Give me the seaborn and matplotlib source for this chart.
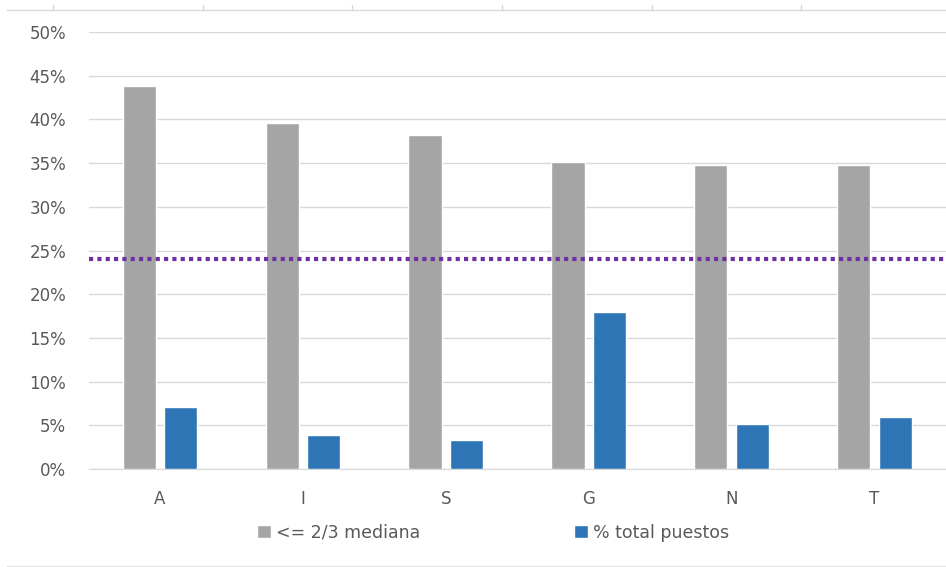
import numpy as np
import pandas as pd
import matplotlib
matplotlib.use("Agg")
import matplotlib.pyplot as plt
import seaborn as sns
from matplotlib.lines import Line2D
from matplotlib.ticker import PercentFormatter

categories = ["A", "I", "S", "G", "N", "T"]
mediana = [43.8, 39.6, 38.2, 35.1, 34.8, 34.8]
puestos = [7.1, 3.9, 3.3, 18.0, 5.1, 5.9]
series_names = ["<= 2/3 mediana", "% total puestos"]
reference_line = 24.0
yticks = [0, 5, 10, 15, 20, 25, 30, 35, 40, 45, 50]

df = pd.DataFrame({
    "cat": categories * 2,
    "serie": [series_names[0]] * len(categories) + [series_names[1]] * len(categories),
    "valor": mediana + puestos,
})

sns.set_style("white")
plt.rcParams["font.family"] = ["DejaVu Sans"]
text_color = "#595959"
grid_color = "#d9d9d9"
fs = 12

fig = plt.figure(figsize=(9.46, 5.67), dpi=100)
ax = fig.add_axes([88.5 / 946, 1 - 469 / 567, 1 - 88.5 / 946, (469 - 32) / 567])

sns.barplot(data=df, x="cat", y="valor", hue="serie", order=categories,
            hue_order=series_names, palette=["#a5a5a5", "#2e75b6"],
            width=0.58, gap=0.2, saturation=1, ax=ax, zorder=3)

ax.axhline(reference_line, color="#7030a0", lw=3, ls=(0, (1, 1)), zorder=4)

ax.set_ylim(0, 50)
ax.set_xlim(-0.5, len(categories) - 0.5)
ax.set_yticks(yticks)
ax.yaxis.set_major_formatter(PercentFormatter(decimals=0))
ax.grid(axis="y", color=grid_color, lw=1, zorder=0)
ax.grid(axis="x", visible=False)
for s in ["top", "right", "left"]:
    ax.spines[s].set_visible(False)
ax.spines["bottom"].set_color(grid_color)
ax.tick_params(axis="both", length=0, labelsize=fs, colors=text_color)
ax.tick_params(axis="x", pad=15)
ax.tick_params(axis="y", pad=16)
ax.set_xlabel("")
ax.set_ylabel("")

handles, labels = ax.get_legend_handles_labels()
ax.legend(handles, labels, loc="center", bbox_to_anchor=(0.472, -0.146),
          ncol=2, frameon=False, fontsize=12.5, labelcolor=text_color,
          handlelength=0.8, handleheight=0.8, handletextpad=0.3, columnspacing=8.85)

# thin borders from the surrounding sheet
fig.add_artist(Line2D([7 / 946, 1], [1 - 10 / 567] * 2, color=grid_color, lw=1))
for xp in [53, 203, 352, 502, 652, 801]:
    fig.add_artist(Line2D([xp / 946] * 2, [1 - 10 / 567, 1 - 5 / 567], color=grid_color, lw=1))
fig.add_artist(Line2D([7 / 946, 1], [1 - 566 / 567] * 2, color="#e6e6e6", lw=1))

fig.savefig("out.png", dpi=100)
